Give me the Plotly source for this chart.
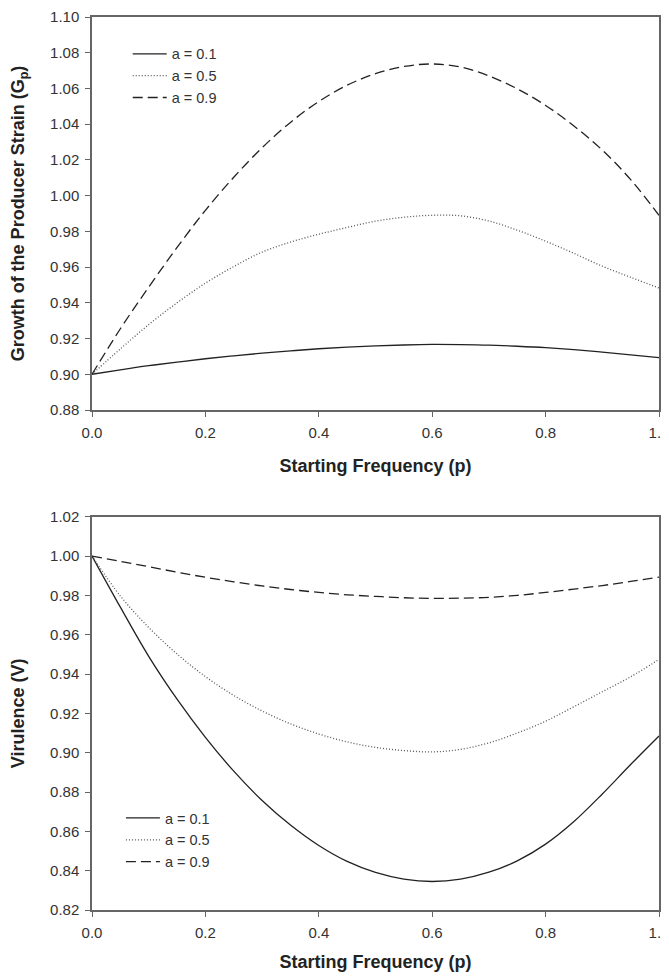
import plotly.graph_objects as go

p = [0.00, 0.05, 0.10, 0.15, 0.20, 0.25, 0.30, 0.35, 0.40, 0.45, 0.50,
     0.55, 0.60, 0.65, 0.70, 0.75, 0.80, 0.85, 0.90, 0.95, 1.00]

# Growth of the producer strain (Gp)
g_a01 = [0.9000, 0.9025, 0.9048, 0.9068, 0.9087, 0.9103, 0.9118, 0.9131, 0.9143, 0.9152, 0.9159,
         0.9164, 0.9167, 0.9166, 0.9163, 0.9157, 0.9149, 0.9138, 0.9124, 0.9109, 0.9093]
g_a05 = [0.9000, 0.9142, 0.9278, 0.9400, 0.9510, 0.9603, 0.9684, 0.9740, 0.9784, 0.9822, 0.9857,
         0.9879, 0.9890, 0.9887, 0.9858, 0.9807, 0.9745, 0.9677, 0.9605, 0.9543, 0.9483]
g_a09 = [0.9000, 0.9255, 0.9488, 0.9710, 0.9918, 1.0103, 1.0268, 1.0410, 1.0527, 1.0618, 1.0683,
         1.0723, 1.0737, 1.0720, 1.0670, 1.0598, 1.0505, 1.0390, 1.0255, 1.0090, 0.9890]

# Virulence (V)
v_a01 = [1.0000, 0.9740, 0.9490, 0.9272, 0.9078, 0.8906, 0.8757, 0.8632, 0.8528, 0.8447, 0.8391,
         0.8357, 0.8345, 0.8357, 0.8392, 0.8450, 0.8535, 0.8650, 0.8790, 0.8940, 0.9085]
v_a05 = [1.0000, 0.9797, 0.9637, 0.9502, 0.9387, 0.9291, 0.9212, 0.9147, 0.9095, 0.9055, 0.9027,
         0.9011, 0.9004, 0.9017, 0.9050, 0.9100, 0.9160, 0.9234, 0.9310, 0.9386, 0.9474]
v_a09 = [1.0000, 0.9973, 0.9946, 0.9918, 0.9892, 0.9869, 0.9848, 0.9830, 0.9815, 0.9803, 0.9795,
         0.9788, 0.9785, 0.9786, 0.9790, 0.9800, 0.9815, 0.9832, 0.9850, 0.9871, 0.9893]

labels = ["a = 0.1", "a = 0.5", "a = 0.9"]
x_ticks = [0.0, 0.2, 0.4, 0.6, 0.8, 1.0]
x_ticktext = ["0.0", "0.2", "0.4", "0.6", "0.8", "1.0"]
top_yticks = [0.88, 0.90, 0.92, 0.94, 0.96, 0.98, 1.00, 1.02, 1.04, 1.06, 1.08, 1.10]
bot_yticks = [0.82, 0.84, 0.86, 0.88, 0.90, 0.92, 0.94, 0.96, 0.98, 1.00, 1.02]

styles = [
    dict(color="#222222", width=1.3, dash="solid"),
    dict(color="#555555", width=1.3, dash="1px,2px"),
    dict(color="#222222", width=1.3, dash="10px,5px"),
]

fig = go.Figure()
for lab, ys, st in zip(labels, [g_a01, g_a05, g_a09], styles):
    fig.add_trace(go.Scatter(x=p, y=ys, mode="lines", name=lab,
                             line=dict(shape="spline", smoothing=1.0, **st),
                             xaxis="x", yaxis="y", legend="legend"))
for lab, ys, st in zip(labels, [v_a01, v_a05, v_a09], styles):
    fig.add_trace(go.Scatter(x=p, y=ys, mode="lines", name=lab,
                             line=dict(shape="spline", smoothing=1.0, **st),
                             xaxis="x2", yaxis="y2", legend="legend2"))

axis_col = "#666666"
FONT = "Liberation Sans, Arial, sans-serif"
tick_font = dict(family=FONT, size=15, color="#333333")
title_font = dict(family=FONT, size=18, color="#222222")

def xax(anchor):
    return dict(domain=[0, 1], range=[0, 1], anchor=anchor, tickvals=x_ticks, ticktext=x_ticktext,
                showline=True, linecolor=axis_col, linewidth=1.5, mirror=True,
                ticks="outside", ticklen=5, tickwidth=1.2, tickcolor=axis_col,
                ticklabelstandoff=3, ticklabeloverflow="allow", automargin=False,
                showgrid=False, zeroline=False, tickfont=tick_font,
                title=dict(text="<b>Starting Frequency (p)</b>", font=title_font, standoff=20))

def yax(anchor, rng, dom, ticks, title):
    return dict(domain=dom, range=rng, anchor=anchor, tickvals=ticks,
                ticktext=["%.2f" % t for t in ticks],
                showline=True, linecolor=axis_col, linewidth=1.5, mirror=True,
                ticks="outside", ticklen=5, tickwidth=1.2, tickcolor=axis_col,
                ticklabelstandoff=3, ticklabeloverflow="allow", automargin=False,
                showgrid=False, zeroline=False, tickfont=tick_font,
                title=dict(text=title, font=title_font, standoff=23))

legend_common = dict(bgcolor="rgba(0,0,0,0)", borderwidth=0,
                     font=dict(family=FONT, size=14.5, color="#333333"),
                     xanchor="left", yanchor="top", tracegroupgap=0, itemwidth=34)

fig.update_layout(
    width=661, height=964,
    margin=dict(l=84, r=10, t=9, b=62, autoexpand=False),
    paper_bgcolor="white", plot_bgcolor="white",
    showlegend=True,
    xaxis=xax("y"),
    yaxis=yax("x", [0.88, 1.10], [0.5599, 1.0], top_yticks,
              "<b>Growth of the Producer Strain (G<sub>p</sub>)</b>"),
    xaxis2=xax("y2"),
    yaxis2=yax("x2", [0.82, 1.02], [0.0, 0.4404], bot_yticks, "<b>Virulence (V)</b>"),
    legend=dict(x=0.063, y=0.9766, **legend_common),
    legend2=dict(x=0.051, y=0.1209, **legend_common),
)

fig.write_html("out.html")
